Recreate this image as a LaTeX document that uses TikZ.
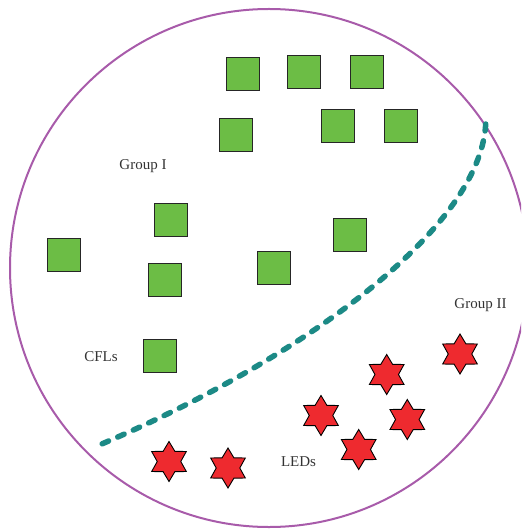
\documentclass[tikz,border=0pt]{standalone}
\usepackage{fontspec}
\setmainfont{Liberation Serif}
\usetikzlibrary{shapes.geometric}
\definecolor{ringpurple}{HTML}{A85BAA}
\definecolor{lampgreen}{HTML}{6CBD45}
\definecolor{ledred}{HTML}{EE2A2F}
\definecolor{splitteal}{HTML}{1C8A86}
\definecolor{labelgray}{HTML}{333333}
\tikzset{
  cfl/.style={draw=black!85, line width=0.9pt, fill=lampgreen, minimum size=33pt, inner sep=0pt, rectangle},
  led/.style={draw=black, line width=0.9pt, fill=ledred, star, star points=6, star point ratio=1.7, minimum size=40pt, inner sep=0pt},
  lbl/.style={font=\fontsize{15}{17}\selectfont, text=labelgray, inner sep=0pt},
  ring/.style={draw=ringpurple, line width=2pt},
  divide/.style={draw=splitteal, line width=5.5pt, line cap=round, dash pattern=on 7pt off 10pt}
}
\begin{document}
\begin{tikzpicture}[x=1pt,y=-1pt]
\useasboundingbox (0,0) rectangle (521,529);
\begin{scope}
\clip (0,0) rectangle (521,529);
\node[ring, circle, minimum size=518pt, inner sep=0pt] (ring) at (269,268) {};
\end{scope}
% squares (CFLs)
\node[cfl] (s1) at (243,73.5) {};
\node[cfl] (s2) at (304,71.5) {};
\node[cfl] (s3) at (367,71.5) {};
\node[cfl] (s4) at (236,134.5) {};
\node[cfl] (s5) at (338,126) {};
\node[cfl] (s6) at (401,126) {};
\node[cfl] (s7) at (171,219.5) {};
\node[cfl] (s8) at (63.5,255) {};
\node[cfl] (s9) at (165,280) {};
\node[cfl] (s10) at (274,267.5) {};
\node[cfl] (s11) at (350,234.5) {};
\node[cfl] (s12) at (160,355.5) {};
% stars (LEDs)
\node[led] (l1) at (460,354) {};
\node[led] (l2) at (386.7,374.5) {};
\node[led] (l3) at (321,415.5) {};
\node[led] (l4) at (407.3,419.5) {};
\node[led] (l5) at (358.7,449.5) {};
\node[led] (l6) at (169,461.5) {};
\node[led] (l7) at (228,468) {};
% labels
\node[lbl] (g1) at (143,166) {Group I};
\node[lbl] (g2) at (480.5,305) {Group II};
\node[lbl] (cfl) at (101,357) {CFLs};
\node[lbl] (leds) at (298.5,462) {LEDs};
% dividing curve
\coordinate (d0) at (485.7,124);
\coordinate (d1) at (97.7,445.7);
\draw[divide] (d0) .. controls (480,230) and (300,360) .. (d1);
\end{tikzpicture}
\end{document}
